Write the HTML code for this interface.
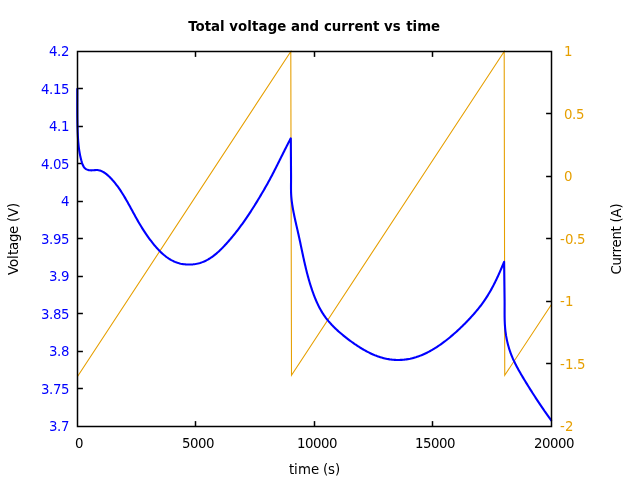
<!DOCTYPE html>
<html lang="en"><head><meta charset="utf-8"><title>Total voltage and current vs time</title>
<style>html,body{margin:0;padding:0;background:#fff;}svg{display:block;}text{font-family:"DejaVu Sans", "Liberation Sans", sans-serif;font-size:13.333px;}</style></head><body>
<svg width="640" height="480" viewBox="0 0 640 480">
<rect width="640" height="480" fill="#fff"/>
<g stroke="#000" stroke-width="1.5" fill="none">
<path d="M195.5,426.5 V421.1"/>
<path d="M195.5,51.5 V56.9"/>
<path d="M314.5,426.5 V421.1"/>
<path d="M314.5,51.5 V56.9"/>
<path d="M432.5,426.5 V421.1"/>
<path d="M432.5,51.5 V56.9"/>
<path d="M77.5,388.5 H82.9"/>
<path d="M77.5,351.5 H82.9"/>
<path d="M77.5,313.5 H82.9"/>
<path d="M77.5,276.5 H82.9"/>
<path d="M77.5,238.5 H82.9"/>
<path d="M77.5,201.5 H82.9"/>
<path d="M77.5,163.5 H82.9"/>
<path d="M77.5,126.5 H82.9"/>
<path d="M77.5,88.5 H82.9"/>
<path d="M551.5,363.5 H546.1"/>
<path d="M551.5,301.5 H546.1"/>
<path d="M551.5,238.5 H546.1"/>
<path d="M551.5,176.5 H546.1"/>
<path d="M551.5,113.5 H546.1"/>
</g>
<path d="M77.50,376.50 L290.80,51.50 L291.50,375.20 L504.20,51.50 L504.75,375.30 L551.60,304.18" fill="none" stroke="#e69f00" stroke-width="1.08" stroke-linejoin="miter" stroke-miterlimit="20"/>
<path d="M77.30,88.20 L77.30,89.40 L77.31,90.61 L77.31,91.81 L77.31,93.02 L77.31,94.22 L77.31,95.43 L77.30,96.63 L77.30,97.84 L77.30,99.05 L77.30,100.26 L77.30,101.46 L77.29,102.67 L77.29,103.88 L77.29,105.09 L77.29,106.30 L77.29,107.51 L77.29,108.72 L77.30,109.93 L77.30,111.13 L77.31,112.34 L77.31,113.55 L77.32,114.76 L77.33,115.97 L77.34,117.18 L77.36,118.39 L77.37,119.60 L77.39,120.81 L77.41,122.02 L77.43,123.22 L77.46,124.43 L77.49,125.64 L77.52,126.85 L77.56,128.05 L77.59,129.26 L77.64,130.46 L77.68,131.67 L77.73,132.87 L77.78,134.08 L77.84,135.28 L77.90,136.48 L77.97,137.68 L78.04,138.89 L78.12,140.09 L78.21,141.29 L78.31,142.48 L78.42,143.68 L78.53,144.88 L78.66,146.08 L78.80,147.27 L78.95,148.46 L79.12,149.66 L79.29,150.85 L79.49,152.04 L79.70,153.23 L79.92,154.42 L80.16,155.61 L80.42,156.79 L80.70,157.98 L81.00,159.16 L81.31,160.35 L81.65,161.53 L82.01,162.71 L82.40,163.88 L82.83,165.02 L83.34,166.11 L83.95,167.11 L84.68,168.01 L85.55,168.78 L86.57,169.40 L87.68,169.86 L88.85,170.17 L90.05,170.31 L91.26,170.34 L92.48,170.29 L93.71,170.19 L94.94,170.10 L96.17,170.04 L97.38,170.06 L98.57,170.21 L99.73,170.48 L100.86,170.85 L101.96,171.32 L103.02,171.87 L104.06,172.49 L105.07,173.17 L106.05,173.88 L107.00,174.63 L107.92,175.41 L108.81,176.22 L109.69,177.05 L110.54,177.91 L111.37,178.79 L112.18,179.68 L112.98,180.58 L113.77,181.50 L114.54,182.43 L115.29,183.37 L116.04,184.31 L116.77,185.27 L117.49,186.24 L118.20,187.21 L118.89,188.19 L119.58,189.18 L120.26,190.18 L120.92,191.18 L121.58,192.20 L122.23,193.21 L122.88,194.24 L123.51,195.26 L124.14,196.30 L124.76,197.34 L125.37,198.38 L125.98,199.43 L126.58,200.48 L127.18,201.53 L127.78,202.59 L128.37,203.64 L128.96,204.71 L129.54,205.77 L130.13,206.83 L130.71,207.90 L131.29,208.96 L131.86,210.03 L132.44,211.09 L133.02,212.16 L133.60,213.22 L134.18,214.29 L134.76,215.35 L135.35,216.41 L135.93,217.46 L136.52,218.52 L137.11,219.57 L137.71,220.61 L138.31,221.66 L138.91,222.70 L139.52,223.73 L140.14,224.76 L140.76,225.79 L141.38,226.82 L142.02,227.84 L142.65,228.85 L143.30,229.86 L143.95,230.87 L144.61,231.88 L145.27,232.88 L145.94,233.87 L146.62,234.86 L147.31,235.85 L148.00,236.84 L148.71,237.82 L149.42,238.79 L150.14,239.76 L150.87,240.73 L151.61,241.69 L152.36,242.65 L153.12,243.60 L153.89,244.55 L154.66,245.49 L155.46,246.42 L156.26,247.35 L157.07,248.26 L157.89,249.16 L158.73,250.05 L159.58,250.93 L160.44,251.79 L161.32,252.63 L162.21,253.45 L163.11,254.25 L164.02,255.04 L164.96,255.80 L165.90,256.54 L166.86,257.25 L167.84,257.94 L168.83,258.60 L169.84,259.23 L170.86,259.83 L171.90,260.40 L172.96,260.93 L174.03,261.44 L175.12,261.91 L176.23,262.34 L177.36,262.73 L178.51,263.09 L179.67,263.40 L180.85,263.68 L182.04,263.92 L183.25,264.12 L184.46,264.28 L185.68,264.40 L186.90,264.49 L188.13,264.53 L189.36,264.54 L190.59,264.51 L191.81,264.44 L193.03,264.33 L194.25,264.19 L195.46,264.01 L196.66,263.79 L197.85,263.53 L199.02,263.23 L200.18,262.90 L201.32,262.53 L202.44,262.12 L203.55,261.68 L204.64,261.21 L205.72,260.70 L206.78,260.16 L207.82,259.60 L208.85,259.00 L209.87,258.38 L210.87,257.73 L211.86,257.05 L212.83,256.36 L213.79,255.64 L214.74,254.90 L215.68,254.14 L216.61,253.36 L217.52,252.56 L218.43,251.75 L219.32,250.92 L220.20,250.08 L221.08,249.23 L221.94,248.37 L222.80,247.49 L223.64,246.61 L224.48,245.72 L225.31,244.83 L226.14,243.93 L226.95,243.03 L227.76,242.12 L228.56,241.21 L229.36,240.30 L230.15,239.38 L230.93,238.47 L231.70,237.54 L232.48,236.62 L233.24,235.69 L234.00,234.76 L234.75,233.82 L235.50,232.89 L236.24,231.94 L236.98,231.00 L237.71,230.05 L238.44,229.10 L239.16,228.14 L239.88,227.18 L240.59,226.21 L241.30,225.24 L242.01,224.27 L242.71,223.30 L243.41,222.32 L244.10,221.33 L244.79,220.35 L245.48,219.35 L246.16,218.36 L246.84,217.36 L247.52,216.36 L248.19,215.36 L248.86,214.35 L249.53,213.35 L250.19,212.33 L250.85,211.32 L251.51,210.30 L252.16,209.29 L252.81,208.27 L253.46,207.24 L254.10,206.22 L254.74,205.19 L255.38,204.17 L256.02,203.14 L256.65,202.11 L257.28,201.08 L257.91,200.05 L258.54,199.01 L259.16,197.98 L259.79,196.94 L260.41,195.91 L261.02,194.87 L261.64,193.83 L262.25,192.80 L262.86,191.76 L263.47,190.71 L264.07,189.67 L264.67,188.63 L265.27,187.58 L265.86,186.54 L266.46,185.49 L267.05,184.44 L267.63,183.39 L268.22,182.33 L268.80,181.28 L269.37,180.22 L269.95,179.16 L270.52,178.10 L271.08,177.03 L271.65,175.97 L272.21,174.90 L272.77,173.83 L273.32,172.76 L273.87,171.68 L274.43,170.61 L274.98,169.54 L275.52,168.46 L276.07,167.38 L276.61,166.30 L277.15,165.22 L277.70,164.14 L278.24,163.06 L278.78,161.98 L279.32,160.90 L279.85,159.82 L280.39,158.74 L280.93,157.65 L281.47,156.57 L282.01,155.49 L282.55,154.41 L283.09,153.33 L283.63,152.25 L284.17,151.17 L284.71,150.09 L285.25,149.01 L285.80,147.93 L286.35,146.86 L286.89,145.78 L287.45,144.71 L288.00,143.64 L288.55,142.56 L289.11,141.50 L289.67,140.43 L290.23,139.36 L290.80,138.30 L291.05,176.00 L291.06,177.20 L291.05,178.41 L291.05,179.61 L291.04,180.82 L291.03,182.02 L291.02,183.23 L291.01,184.44 L291.00,185.65 L291.00,186.85 L291.00,188.06 L291.01,189.27 L291.03,190.48 L291.05,191.68 L291.09,192.89 L291.15,194.09 L291.21,195.29 L291.29,196.49 L291.39,197.69 L291.51,198.89 L291.63,200.08 L291.77,201.28 L291.92,202.47 L292.09,203.66 L292.26,204.85 L292.45,206.04 L292.65,207.23 L292.85,208.41 L293.06,209.60 L293.28,210.78 L293.51,211.97 L293.74,213.15 L293.98,214.33 L294.22,215.51 L294.47,216.69 L294.72,217.87 L294.98,219.05 L295.24,220.22 L295.50,221.40 L295.77,222.58 L296.03,223.75 L296.30,224.93 L296.57,226.11 L296.84,227.28 L297.11,228.46 L297.38,229.63 L297.65,230.81 L297.92,231.98 L298.19,233.16 L298.45,234.33 L298.71,235.51 L298.97,236.69 L299.23,237.86 L299.48,239.04 L299.74,240.22 L299.99,241.39 L300.24,242.57 L300.49,243.75 L300.74,244.92 L300.98,246.10 L301.23,247.28 L301.48,248.46 L301.73,249.63 L301.98,250.81 L302.23,251.99 L302.48,253.17 L302.73,254.34 L302.98,255.52 L303.23,256.70 L303.49,257.88 L303.75,259.05 L304.01,260.23 L304.27,261.41 L304.53,262.58 L304.80,263.76 L305.07,264.93 L305.35,266.11 L305.62,267.28 L305.91,268.46 L306.19,269.63 L306.48,270.80 L306.77,271.97 L307.07,273.14 L307.38,274.31 L307.68,275.48 L308.00,276.64 L308.32,277.81 L308.64,278.97 L308.97,280.13 L309.31,281.29 L309.65,282.44 L310.00,283.60 L310.35,284.75 L310.71,285.90 L311.08,287.05 L311.46,288.20 L311.84,289.34 L312.23,290.48 L312.63,291.62 L313.04,292.76 L313.45,293.89 L313.88,295.02 L314.31,296.15 L314.75,297.27 L315.20,298.39 L315.66,299.51 L316.13,300.62 L316.61,301.73 L317.11,302.83 L317.61,303.92 L318.13,305.01 L318.66,306.09 L319.20,307.16 L319.76,308.23 L320.33,309.28 L320.92,310.33 L321.52,311.36 L322.14,312.39 L322.77,313.41 L323.43,314.41 L324.09,315.40 L324.78,316.38 L325.48,317.35 L326.20,318.31 L326.94,319.25 L327.69,320.18 L328.45,321.11 L329.23,322.02 L330.02,322.92 L330.83,323.81 L331.64,324.70 L332.48,325.57 L333.32,326.43 L334.17,327.28 L335.03,328.13 L335.91,328.96 L336.79,329.79 L337.68,330.60 L338.58,331.41 L339.49,332.21 L340.41,333.01 L341.33,333.79 L342.26,334.57 L343.20,335.34 L344.14,336.11 L345.08,336.86 L346.03,337.61 L346.99,338.36 L347.95,339.10 L348.91,339.83 L349.87,340.55 L350.84,341.27 L351.82,341.98 L352.79,342.68 L353.78,343.38 L354.76,344.07 L355.76,344.74 L356.75,345.41 L357.76,346.08 L358.77,346.73 L359.78,347.37 L360.80,348.00 L361.83,348.63 L362.86,349.24 L363.90,349.84 L364.95,350.43 L366.00,351.01 L367.06,351.58 L368.12,352.13 L369.20,352.67 L370.28,353.20 L371.36,353.71 L372.46,354.20 L373.56,354.68 L374.66,355.15 L375.78,355.59 L376.90,356.02 L378.02,356.42 L379.16,356.81 L380.30,357.18 L381.45,357.53 L382.60,357.86 L383.77,358.16 L384.94,358.44 L386.11,358.70 L387.30,358.94 L388.49,359.15 L389.69,359.34 L390.89,359.50 L392.10,359.64 L393.31,359.75 L394.52,359.84 L395.74,359.91 L396.96,359.94 L398.17,359.96 L399.39,359.95 L400.60,359.91 L401.81,359.85 L403.02,359.76 L404.22,359.65 L405.41,359.51 L406.60,359.34 L407.78,359.16 L408.96,358.94 L410.13,358.71 L411.30,358.45 L412.46,358.17 L413.61,357.87 L414.76,357.54 L415.90,357.20 L417.03,356.83 L418.16,356.44 L419.28,356.04 L420.40,355.61 L421.51,355.17 L422.62,354.71 L423.72,354.23 L424.81,353.73 L425.90,353.22 L426.98,352.69 L428.05,352.15 L429.12,351.59 L430.18,351.01 L431.24,350.42 L432.29,349.82 L433.33,349.21 L434.36,348.58 L435.39,347.94 L436.42,347.28 L437.44,346.62 L438.45,345.95 L439.45,345.26 L440.45,344.57 L441.44,343.86 L442.43,343.15 L443.41,342.43 L444.38,341.70 L445.34,340.96 L446.30,340.22 L447.25,339.47 L448.20,338.71 L449.14,337.95 L450.07,337.19 L451.00,336.41 L451.92,335.64 L452.83,334.86 L453.74,334.07 L454.64,333.28 L455.54,332.48 L456.43,331.68 L457.32,330.87 L458.20,330.06 L459.07,329.25 L459.94,328.42 L460.81,327.60 L461.67,326.77 L462.53,325.93 L463.38,325.09 L464.23,324.24 L465.07,323.39 L465.91,322.53 L466.75,321.67 L467.58,320.81 L468.42,319.93 L469.24,319.06 L470.07,318.18 L470.88,317.29 L471.70,316.40 L472.51,315.50 L473.31,314.60 L474.11,313.69 L474.90,312.78 L475.69,311.86 L476.47,310.93 L477.24,310.00 L478.00,309.07 L478.76,308.13 L479.51,307.18 L480.25,306.23 L480.99,305.27 L481.71,304.30 L482.43,303.33 L483.13,302.36 L483.83,301.37 L484.52,300.38 L485.19,299.39 L485.86,298.38 L486.51,297.38 L487.16,296.36 L487.80,295.34 L488.43,294.32 L489.05,293.29 L489.66,292.25 L490.26,291.21 L490.85,290.17 L491.44,289.12 L492.02,288.06 L492.59,287.01 L493.15,285.94 L493.71,284.88 L494.26,283.80 L494.80,282.73 L495.33,281.65 L495.86,280.57 L496.39,279.49 L496.90,278.40 L497.42,277.31 L497.92,276.21 L498.42,275.11 L498.92,274.02 L499.41,272.91 L499.90,271.81 L500.38,270.70 L500.86,269.60 L501.33,268.49 L501.80,267.38 L502.27,266.26 L502.73,265.15 L503.19,264.03 L503.65,262.92 L504.10,261.80 L504.58,300.00 L504.59,301.21 L504.60,302.43 L504.60,303.65 L504.60,304.87 L504.59,306.09 L504.59,307.31 L504.58,308.53 L504.58,309.75 L504.58,310.98 L504.58,312.20 L504.58,313.43 L504.59,314.65 L504.60,315.88 L504.61,317.11 L504.63,318.33 L504.66,319.56 L504.70,320.78 L504.75,322.01 L504.80,323.23 L504.87,324.45 L504.95,325.67 L505.04,326.89 L505.14,328.11 L505.25,329.33 L505.38,330.54 L505.53,331.76 L505.69,332.97 L505.86,334.18 L506.04,335.38 L506.25,336.59 L506.46,337.79 L506.69,338.98 L506.94,340.18 L507.20,341.37 L507.47,342.56 L507.76,343.74 L508.07,344.92 L508.39,346.10 L508.73,347.27 L509.08,348.43 L509.44,349.60 L509.82,350.75 L510.22,351.90 L510.63,353.05 L511.06,354.19 L511.50,355.33 L511.96,356.46 L512.44,357.58 L512.92,358.70 L513.43,359.82 L513.94,360.92 L514.47,362.03 L515.00,363.13 L515.55,364.22 L516.11,365.32 L516.68,366.40 L517.26,367.48 L517.84,368.56 L518.44,369.64 L519.04,370.71 L519.64,371.78 L520.25,372.85 L520.87,373.91 L521.49,374.97 L522.11,376.03 L522.74,377.09 L523.37,378.14 L524.00,379.19 L524.63,380.24 L525.27,381.29 L525.91,382.33 L526.55,383.38 L527.19,384.42 L527.84,385.46 L528.48,386.49 L529.13,387.53 L529.78,388.57 L530.43,389.60 L531.08,390.63 L531.74,391.66 L532.39,392.69 L533.05,393.71 L533.71,394.74 L534.37,395.76 L535.03,396.79 L535.69,397.81 L536.35,398.83 L537.02,399.85 L537.68,400.87 L538.35,401.88 L539.02,402.90 L539.69,403.91 L540.37,404.92 L541.04,405.94 L541.72,406.95 L542.41,407.95 L543.09,408.96 L543.78,409.96 L544.47,410.97 L545.17,411.97 L545.86,412.97 L546.57,413.97 L547.27,414.96 L547.98,415.96 L548.70,416.95 L549.42,417.94 L550.14,418.93 L550.87,419.91 L551.60,420.90" fill="none" stroke="#0000ff" stroke-width="2.1" stroke-linejoin="round" stroke-linecap="butt"/>
<rect x="77.5" y="51.5" width="474.0" height="375.0" fill="none" stroke="#000" stroke-width="1.5"/>
<text x="49 57 61" y="431" fill="#0000ff">3.7</text>
<text x="41 49 53 61" y="394" fill="#0000ff">3.75</text>
<text x="49 57 61" y="356" fill="#0000ff">3.8</text>
<text x="41 49 53 61" y="319" fill="#0000ff">3.85</text>
<text x="49 57 61" y="281" fill="#0000ff">3.9</text>
<text x="41 49 53 61" y="244" fill="#0000ff">3.95</text>
<text x="61" y="206" fill="#0000ff">4</text>
<text x="41 49 53 61" y="169" fill="#0000ff">4.05</text>
<text x="49 57 61" y="131" fill="#0000ff">4.1</text>
<text x="41 49 53 61" y="94" fill="#0000ff">4.15</text>
<text x="49 57 61" y="56" fill="#0000ff">4.2</text>
<text x="560 565" y="431" fill="#e69f00">-2</text>
<text x="560 565 573 577" y="369" fill="#e69f00">-1.5</text>
<text x="560 565" y="306" fill="#e69f00">-1</text>
<text x="560 565 573 577" y="244" fill="#e69f00">-0.5</text>
<text x="564" y="181" fill="#e69f00">0</text>
<text x="564 572 576" y="119" fill="#e69f00">0.5</text>
<text x="564" y="56" fill="#e69f00">1</text>
<text x="75" y="448" fill="#000">0</text>
<text x="182 190 198 206" y="448" fill="#000">5000</text>
<text x="297 305 313 321 329" y="448" fill="#000">10000</text>
<text x="415 423 431 439 447" y="448" fill="#000">15000</text>
<text x="534 542 550 558 566" y="448" fill="#000">20000</text>
<text y="31" font-weight="bold" fill="#000"><tspan x="188.2">Total</tspan> <tspan x="229.2" letter-spacing="0.14">voltage</tspan> <tspan x="290.95">and</tspan> <tspan x="323.9">current</tspan> <tspan x="384.1">vs</tspan> <tspan x="406.2">time</tspan></text>
<text x="289 294 298 311 319 323 328 335" y="474" fill="#000">time (s)</text>
<text transform="translate(17.6,275.0) rotate(-90)" x="0 8 16 20 25 33 41 49 53 58 67" y="0" fill="#000">Voltage (V)</text>
<text transform="translate(621.2,274.4) rotate(-90)" x="0 9 17 22 27 35 43 48 52 57 66" y="0" fill="#000">Current (A)</text>
</svg></body></html>
